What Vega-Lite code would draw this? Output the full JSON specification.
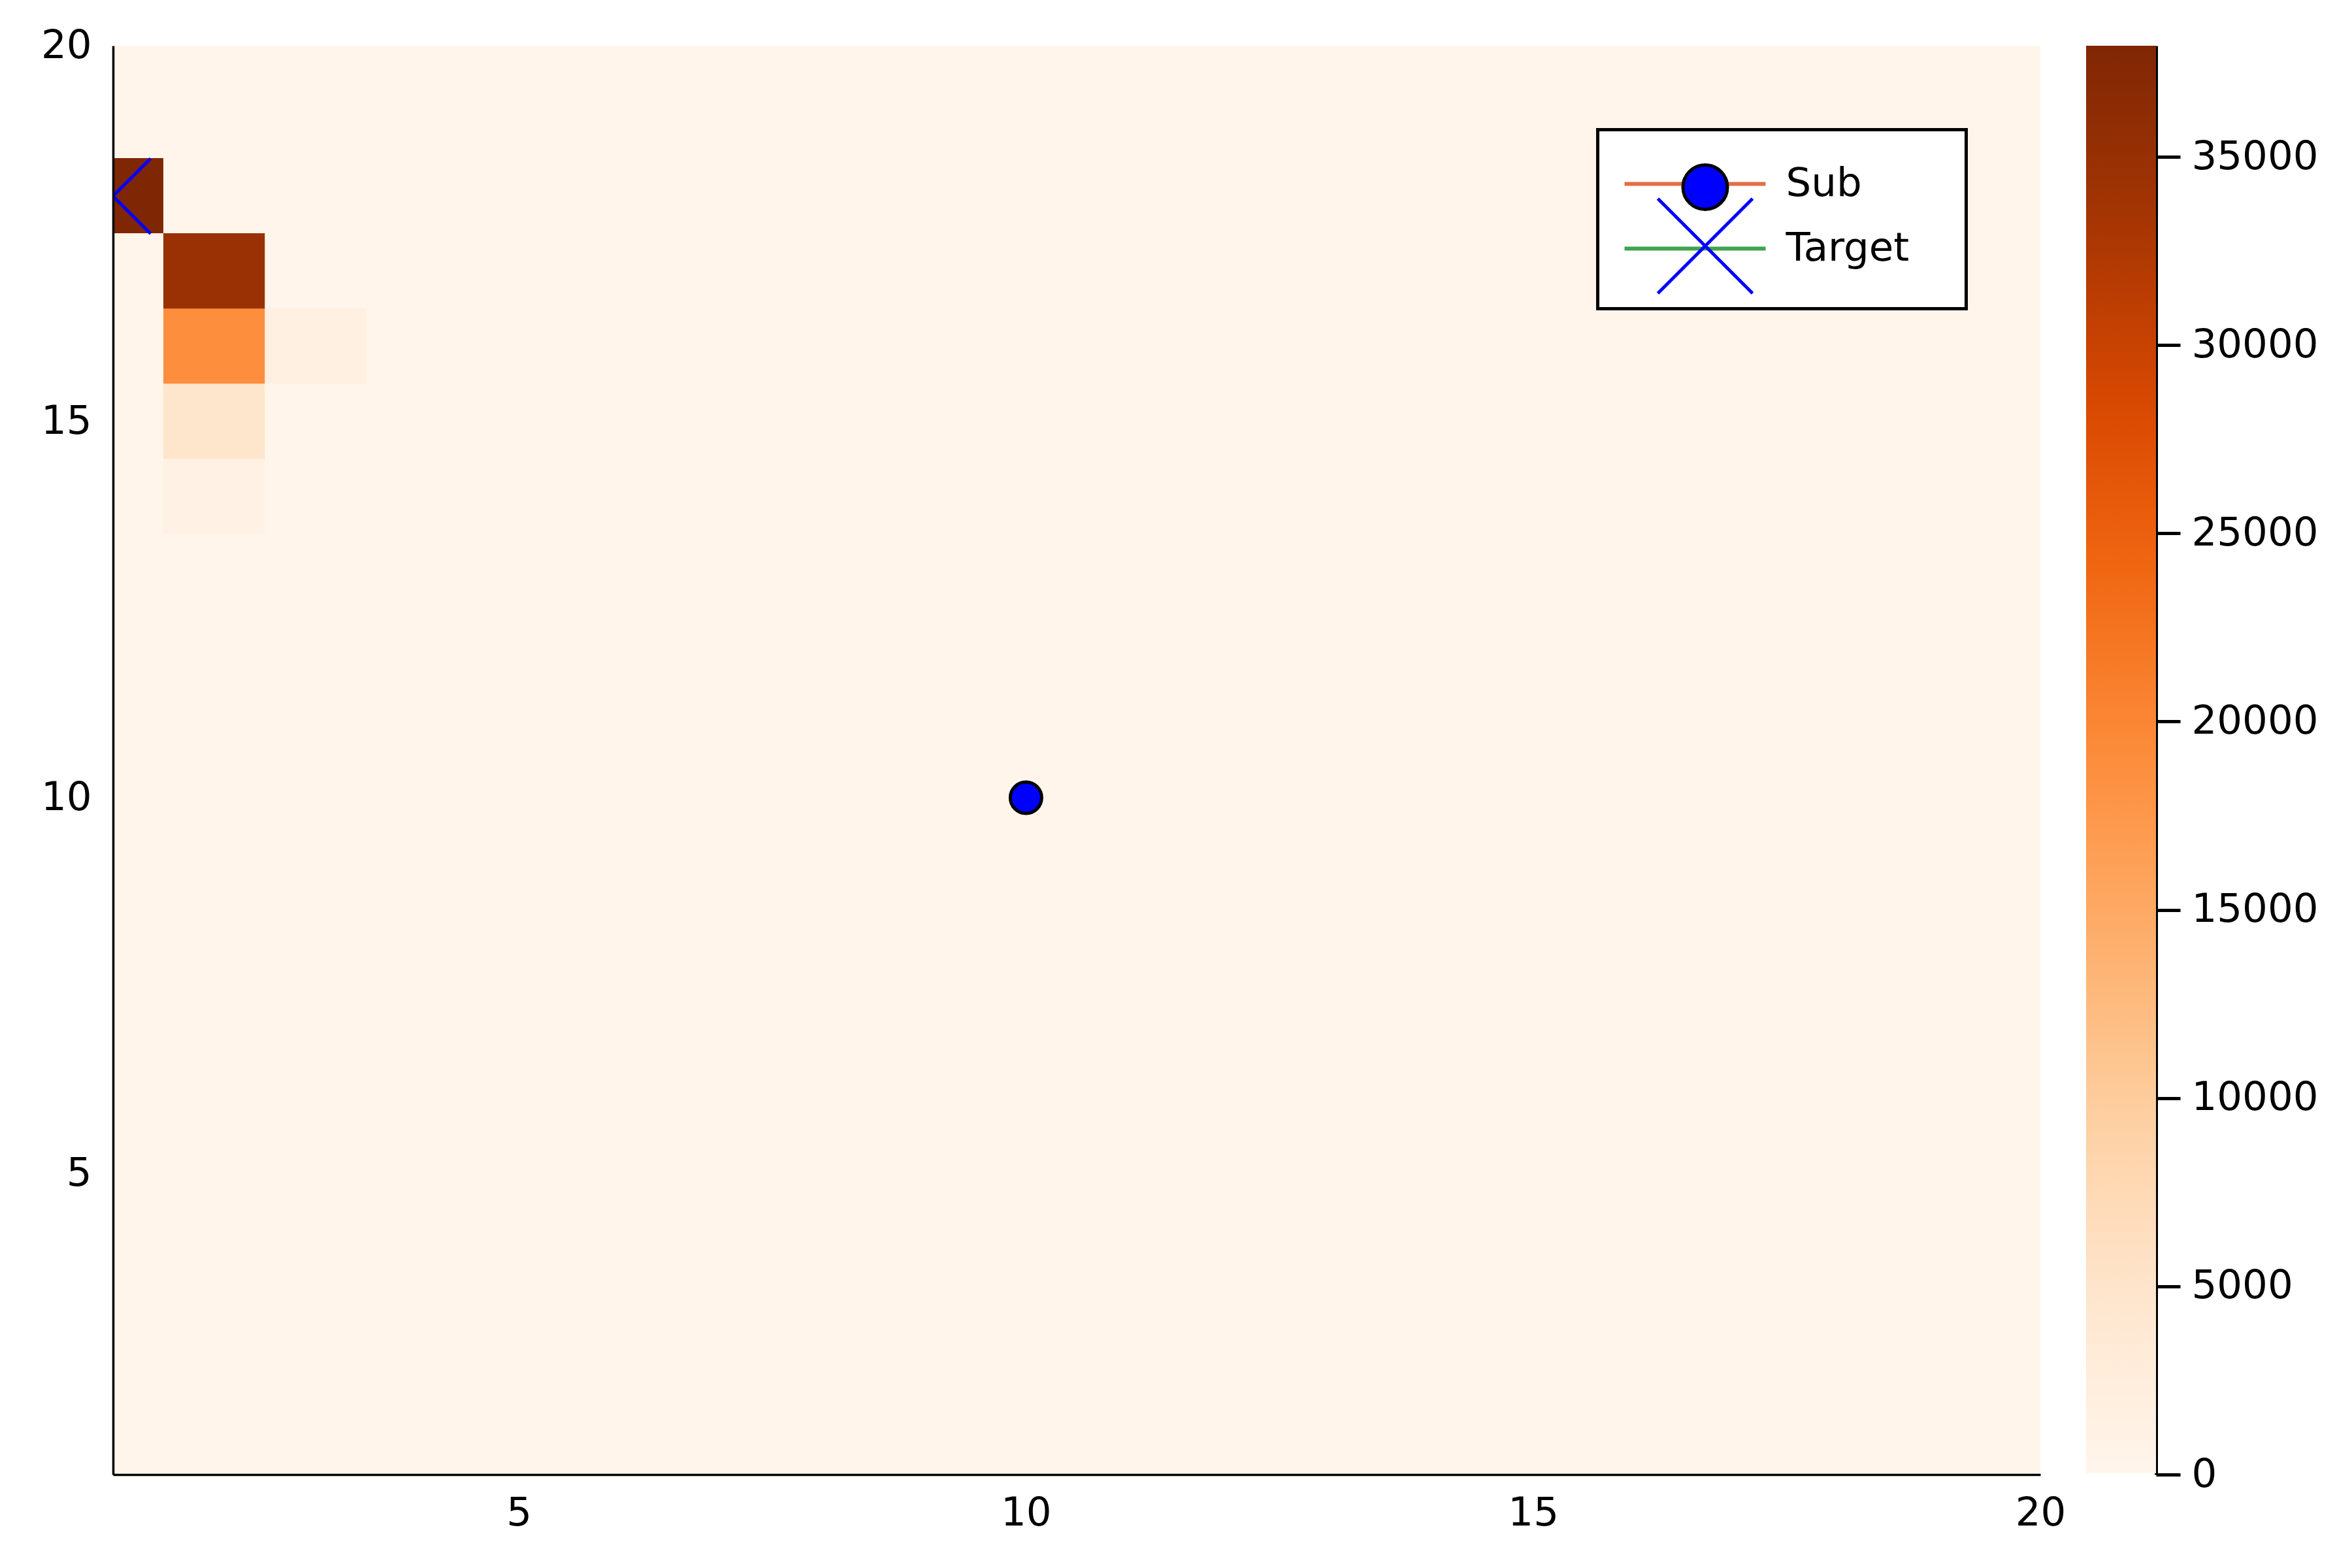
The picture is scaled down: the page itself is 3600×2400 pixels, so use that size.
{
  "$schema": "https://vega.github.io/schema/vega-lite/v6.json",
  "width": 2950,
  "height": 2187,
  "autosize": {"type": "none"},
  "padding": {"left": 173, "top": 70, "right": 477, "bottom": 143},
  "background": "white",
  "datasets": {
    "grid": [
      {"x":1,"y":20,"v":0},{"x":2,"y":20,"v":0},{"x":3,"y":20,"v":0},{"x":4,"y":20,"v":0},{"x":5,"y":20,"v":0},{"x":6,"y":20,"v":0},{"x":7,"y":20,"v":0},{"x":8,"y":20,"v":0},{"x":9,"y":20,"v":0},{"x":10,"y":20,"v":0},{"x":11,"y":20,"v":0},{"x":12,"y":20,"v":0},{"x":13,"y":20,"v":0},{"x":14,"y":20,"v":0},{"x":15,"y":20,"v":0},{"x":16,"y":20,"v":0},{"x":17,"y":20,"v":0},{"x":18,"y":20,"v":0},{"x":19,"y":20,"v":0},{"x":20,"y":20,"v":0},
      {"x":1,"y":19,"v":0},{"x":2,"y":19,"v":0},{"x":3,"y":19,"v":0},{"x":4,"y":19,"v":0},{"x":5,"y":19,"v":0},{"x":6,"y":19,"v":0},{"x":7,"y":19,"v":0},{"x":8,"y":19,"v":0},{"x":9,"y":19,"v":0},{"x":10,"y":19,"v":0},{"x":11,"y":19,"v":0},{"x":12,"y":19,"v":0},{"x":13,"y":19,"v":0},{"x":14,"y":19,"v":0},{"x":15,"y":19,"v":0},{"x":16,"y":19,"v":0},{"x":17,"y":19,"v":0},{"x":18,"y":19,"v":0},{"x":19,"y":19,"v":0},{"x":20,"y":19,"v":0},
      {"x":1,"y":18,"v":37950},{"x":2,"y":18,"v":0},{"x":3,"y":18,"v":0},{"x":4,"y":18,"v":0},{"x":5,"y":18,"v":0},{"x":6,"y":18,"v":0},{"x":7,"y":18,"v":0},{"x":8,"y":18,"v":0},{"x":9,"y":18,"v":0},{"x":10,"y":18,"v":0},{"x":11,"y":18,"v":0},{"x":12,"y":18,"v":0},{"x":13,"y":18,"v":0},{"x":14,"y":18,"v":0},{"x":15,"y":18,"v":0},{"x":16,"y":18,"v":0},{"x":17,"y":18,"v":0},{"x":18,"y":18,"v":0},{"x":19,"y":18,"v":0},{"x":20,"y":18,"v":0},
      {"x":1,"y":17,"v":0},{"x":2,"y":17,"v":34800},{"x":3,"y":17,"v":0},{"x":4,"y":17,"v":0},{"x":5,"y":17,"v":0},{"x":6,"y":17,"v":0},{"x":7,"y":17,"v":0},{"x":8,"y":17,"v":0},{"x":9,"y":17,"v":0},{"x":10,"y":17,"v":0},{"x":11,"y":17,"v":0},{"x":12,"y":17,"v":0},{"x":13,"y":17,"v":0},{"x":14,"y":17,"v":0},{"x":15,"y":17,"v":0},{"x":16,"y":17,"v":0},{"x":17,"y":17,"v":0},{"x":18,"y":17,"v":0},{"x":19,"y":17,"v":0},{"x":20,"y":17,"v":0},
      {"x":1,"y":16,"v":0},{"x":2,"y":16,"v":18900},{"x":3,"y":16,"v":1500},{"x":4,"y":16,"v":0},{"x":5,"y":16,"v":0},{"x":6,"y":16,"v":0},{"x":7,"y":16,"v":0},{"x":8,"y":16,"v":0},{"x":9,"y":16,"v":0},{"x":10,"y":16,"v":0},{"x":11,"y":16,"v":0},{"x":12,"y":16,"v":0},{"x":13,"y":16,"v":0},{"x":14,"y":16,"v":0},{"x":15,"y":16,"v":0},{"x":16,"y":16,"v":0},{"x":17,"y":16,"v":0},{"x":18,"y":16,"v":0},{"x":19,"y":16,"v":0},{"x":20,"y":16,"v":0},
      {"x":1,"y":15,"v":0},{"x":2,"y":15,"v":4800},{"x":3,"y":15,"v":0},{"x":4,"y":15,"v":0},{"x":5,"y":15,"v":0},{"x":6,"y":15,"v":0},{"x":7,"y":15,"v":0},{"x":8,"y":15,"v":0},{"x":9,"y":15,"v":0},{"x":10,"y":15,"v":0},{"x":11,"y":15,"v":0},{"x":12,"y":15,"v":0},{"x":13,"y":15,"v":0},{"x":14,"y":15,"v":0},{"x":15,"y":15,"v":0},{"x":16,"y":15,"v":0},{"x":17,"y":15,"v":0},{"x":18,"y":15,"v":0},{"x":19,"y":15,"v":0},{"x":20,"y":15,"v":0},
      {"x":1,"y":14,"v":0},{"x":2,"y":14,"v":900},{"x":3,"y":14,"v":0},{"x":4,"y":14,"v":0},{"x":5,"y":14,"v":0},{"x":6,"y":14,"v":0},{"x":7,"y":14,"v":0},{"x":8,"y":14,"v":0},{"x":9,"y":14,"v":0},{"x":10,"y":14,"v":0},{"x":11,"y":14,"v":0},{"x":12,"y":14,"v":0},{"x":13,"y":14,"v":0},{"x":14,"y":14,"v":0},{"x":15,"y":14,"v":0},{"x":16,"y":14,"v":0},{"x":17,"y":14,"v":0},{"x":18,"y":14,"v":0},{"x":19,"y":14,"v":0},{"x":20,"y":14,"v":0},
      {"x":1,"y":13,"v":0},{"x":2,"y":13,"v":0},{"x":3,"y":13,"v":0},{"x":4,"y":13,"v":0},{"x":5,"y":13,"v":0},{"x":6,"y":13,"v":0},{"x":7,"y":13,"v":0},{"x":8,"y":13,"v":0},{"x":9,"y":13,"v":0},{"x":10,"y":13,"v":0},{"x":11,"y":13,"v":0},{"x":12,"y":13,"v":0},{"x":13,"y":13,"v":0},{"x":14,"y":13,"v":0},{"x":15,"y":13,"v":0},{"x":16,"y":13,"v":0},{"x":17,"y":13,"v":0},{"x":18,"y":13,"v":0},{"x":19,"y":13,"v":0},{"x":20,"y":13,"v":0},
      {"x":1,"y":12,"v":0},{"x":2,"y":12,"v":0},{"x":3,"y":12,"v":0},{"x":4,"y":12,"v":0},{"x":5,"y":12,"v":0},{"x":6,"y":12,"v":0},{"x":7,"y":12,"v":0},{"x":8,"y":12,"v":0},{"x":9,"y":12,"v":0},{"x":10,"y":12,"v":0},{"x":11,"y":12,"v":0},{"x":12,"y":12,"v":0},{"x":13,"y":12,"v":0},{"x":14,"y":12,"v":0},{"x":15,"y":12,"v":0},{"x":16,"y":12,"v":0},{"x":17,"y":12,"v":0},{"x":18,"y":12,"v":0},{"x":19,"y":12,"v":0},{"x":20,"y":12,"v":0},
      {"x":1,"y":11,"v":0},{"x":2,"y":11,"v":0},{"x":3,"y":11,"v":0},{"x":4,"y":11,"v":0},{"x":5,"y":11,"v":0},{"x":6,"y":11,"v":0},{"x":7,"y":11,"v":0},{"x":8,"y":11,"v":0},{"x":9,"y":11,"v":0},{"x":10,"y":11,"v":0},{"x":11,"y":11,"v":0},{"x":12,"y":11,"v":0},{"x":13,"y":11,"v":0},{"x":14,"y":11,"v":0},{"x":15,"y":11,"v":0},{"x":16,"y":11,"v":0},{"x":17,"y":11,"v":0},{"x":18,"y":11,"v":0},{"x":19,"y":11,"v":0},{"x":20,"y":11,"v":0},
      {"x":1,"y":10,"v":0},{"x":2,"y":10,"v":0},{"x":3,"y":10,"v":0},{"x":4,"y":10,"v":0},{"x":5,"y":10,"v":0},{"x":6,"y":10,"v":0},{"x":7,"y":10,"v":0},{"x":8,"y":10,"v":0},{"x":9,"y":10,"v":0},{"x":10,"y":10,"v":0},{"x":11,"y":10,"v":0},{"x":12,"y":10,"v":0},{"x":13,"y":10,"v":0},{"x":14,"y":10,"v":0},{"x":15,"y":10,"v":0},{"x":16,"y":10,"v":0},{"x":17,"y":10,"v":0},{"x":18,"y":10,"v":0},{"x":19,"y":10,"v":0},{"x":20,"y":10,"v":0},
      {"x":1,"y":9,"v":0},{"x":2,"y":9,"v":0},{"x":3,"y":9,"v":0},{"x":4,"y":9,"v":0},{"x":5,"y":9,"v":0},{"x":6,"y":9,"v":0},{"x":7,"y":9,"v":0},{"x":8,"y":9,"v":0},{"x":9,"y":9,"v":0},{"x":10,"y":9,"v":0},{"x":11,"y":9,"v":0},{"x":12,"y":9,"v":0},{"x":13,"y":9,"v":0},{"x":14,"y":9,"v":0},{"x":15,"y":9,"v":0},{"x":16,"y":9,"v":0},{"x":17,"y":9,"v":0},{"x":18,"y":9,"v":0},{"x":19,"y":9,"v":0},{"x":20,"y":9,"v":0},
      {"x":1,"y":8,"v":0},{"x":2,"y":8,"v":0},{"x":3,"y":8,"v":0},{"x":4,"y":8,"v":0},{"x":5,"y":8,"v":0},{"x":6,"y":8,"v":0},{"x":7,"y":8,"v":0},{"x":8,"y":8,"v":0},{"x":9,"y":8,"v":0},{"x":10,"y":8,"v":0},{"x":11,"y":8,"v":0},{"x":12,"y":8,"v":0},{"x":13,"y":8,"v":0},{"x":14,"y":8,"v":0},{"x":15,"y":8,"v":0},{"x":16,"y":8,"v":0},{"x":17,"y":8,"v":0},{"x":18,"y":8,"v":0},{"x":19,"y":8,"v":0},{"x":20,"y":8,"v":0},
      {"x":1,"y":7,"v":0},{"x":2,"y":7,"v":0},{"x":3,"y":7,"v":0},{"x":4,"y":7,"v":0},{"x":5,"y":7,"v":0},{"x":6,"y":7,"v":0},{"x":7,"y":7,"v":0},{"x":8,"y":7,"v":0},{"x":9,"y":7,"v":0},{"x":10,"y":7,"v":0},{"x":11,"y":7,"v":0},{"x":12,"y":7,"v":0},{"x":13,"y":7,"v":0},{"x":14,"y":7,"v":0},{"x":15,"y":7,"v":0},{"x":16,"y":7,"v":0},{"x":17,"y":7,"v":0},{"x":18,"y":7,"v":0},{"x":19,"y":7,"v":0},{"x":20,"y":7,"v":0},
      {"x":1,"y":6,"v":0},{"x":2,"y":6,"v":0},{"x":3,"y":6,"v":0},{"x":4,"y":6,"v":0},{"x":5,"y":6,"v":0},{"x":6,"y":6,"v":0},{"x":7,"y":6,"v":0},{"x":8,"y":6,"v":0},{"x":9,"y":6,"v":0},{"x":10,"y":6,"v":0},{"x":11,"y":6,"v":0},{"x":12,"y":6,"v":0},{"x":13,"y":6,"v":0},{"x":14,"y":6,"v":0},{"x":15,"y":6,"v":0},{"x":16,"y":6,"v":0},{"x":17,"y":6,"v":0},{"x":18,"y":6,"v":0},{"x":19,"y":6,"v":0},{"x":20,"y":6,"v":0},
      {"x":1,"y":5,"v":0},{"x":2,"y":5,"v":0},{"x":3,"y":5,"v":0},{"x":4,"y":5,"v":0},{"x":5,"y":5,"v":0},{"x":6,"y":5,"v":0},{"x":7,"y":5,"v":0},{"x":8,"y":5,"v":0},{"x":9,"y":5,"v":0},{"x":10,"y":5,"v":0},{"x":11,"y":5,"v":0},{"x":12,"y":5,"v":0},{"x":13,"y":5,"v":0},{"x":14,"y":5,"v":0},{"x":15,"y":5,"v":0},{"x":16,"y":5,"v":0},{"x":17,"y":5,"v":0},{"x":18,"y":5,"v":0},{"x":19,"y":5,"v":0},{"x":20,"y":5,"v":0},
      {"x":1,"y":4,"v":0},{"x":2,"y":4,"v":0},{"x":3,"y":4,"v":0},{"x":4,"y":4,"v":0},{"x":5,"y":4,"v":0},{"x":6,"y":4,"v":0},{"x":7,"y":4,"v":0},{"x":8,"y":4,"v":0},{"x":9,"y":4,"v":0},{"x":10,"y":4,"v":0},{"x":11,"y":4,"v":0},{"x":12,"y":4,"v":0},{"x":13,"y":4,"v":0},{"x":14,"y":4,"v":0},{"x":15,"y":4,"v":0},{"x":16,"y":4,"v":0},{"x":17,"y":4,"v":0},{"x":18,"y":4,"v":0},{"x":19,"y":4,"v":0},{"x":20,"y":4,"v":0},
      {"x":1,"y":3,"v":0},{"x":2,"y":3,"v":0},{"x":3,"y":3,"v":0},{"x":4,"y":3,"v":0},{"x":5,"y":3,"v":0},{"x":6,"y":3,"v":0},{"x":7,"y":3,"v":0},{"x":8,"y":3,"v":0},{"x":9,"y":3,"v":0},{"x":10,"y":3,"v":0},{"x":11,"y":3,"v":0},{"x":12,"y":3,"v":0},{"x":13,"y":3,"v":0},{"x":14,"y":3,"v":0},{"x":15,"y":3,"v":0},{"x":16,"y":3,"v":0},{"x":17,"y":3,"v":0},{"x":18,"y":3,"v":0},{"x":19,"y":3,"v":0},{"x":20,"y":3,"v":0},
      {"x":1,"y":2,"v":0},{"x":2,"y":2,"v":0},{"x":3,"y":2,"v":0},{"x":4,"y":2,"v":0},{"x":5,"y":2,"v":0},{"x":6,"y":2,"v":0},{"x":7,"y":2,"v":0},{"x":8,"y":2,"v":0},{"x":9,"y":2,"v":0},{"x":10,"y":2,"v":0},{"x":11,"y":2,"v":0},{"x":12,"y":2,"v":0},{"x":13,"y":2,"v":0},{"x":14,"y":2,"v":0},{"x":15,"y":2,"v":0},{"x":16,"y":2,"v":0},{"x":17,"y":2,"v":0},{"x":18,"y":2,"v":0},{"x":19,"y":2,"v":0},{"x":20,"y":2,"v":0},
      {"x":1,"y":1,"v":0},{"x":2,"y":1,"v":0},{"x":3,"y":1,"v":0},{"x":4,"y":1,"v":0},{"x":5,"y":1,"v":0},{"x":6,"y":1,"v":0},{"x":7,"y":1,"v":0},{"x":8,"y":1,"v":0},{"x":9,"y":1,"v":0},{"x":10,"y":1,"v":0},{"x":11,"y":1,"v":0},{"x":12,"y":1,"v":0},{"x":13,"y":1,"v":0},{"x":14,"y":1,"v":0},{"x":15,"y":1,"v":0},{"x":16,"y":1,"v":0},{"x":17,"y":1,"v":0},{"x":18,"y":1,"v":0},{"x":19,"y":1,"v":0},{"x":20,"y":1,"v":0}
    ],
    "series": [
      {"series": "Sub", "line": "Sub", "x": 10, "y": 10},
      {"series": "Target", "line": "Target", "x": 1, "y": 18}
    ]
  },
  "config": {
    "view": {"stroke": null},
    "font": "DejaVu Sans",
    "axis": {"labelFont": "DejaVu Sans", "labelFontSize": 61, "labelColor": "black", "domainColor": "black", "grid": false, "title": null, "labelLimit": 1000},
    "legend": {"strokeWidth": 5, "labelLimit": 1000}
  },
  "layer": [
    {
      "layer": [
        {
          "data": {"name": "grid"},
          "mark": {"type": "rect", "width": 156.5, "height": 116.5, "clip": true},
          "encoding": {
            "x": {"field": "x", "type": "quantitative", "scale": {"domain": [1, 20], "nice": false, "zero": false},
                  "axis": {"values": [5, 10, 15, 20], "format": "d", "ticks": false, "labelPadding": 29, "domainWidth": 3.5, "zindex": 1, "labelFlush": false, "labelOverlap": false}},
            "y": {"field": "y", "type": "quantitative", "scale": {"domain": [1, 20], "nice": false, "zero": false},
                  "axis": {"values": [5, 10, 15, 20], "format": "d", "ticks": false, "labelPadding": 33, "domainWidth": 3.5, "zindex": 1, "labelFlush": false, "labelOverlap": false}},
            "fill": {"field": "v", "type": "quantitative",
                     "scale": {"domain": [0, 37950], "range": ["#fff5eb", "#fee6ce", "#fdd0a2", "#fdae6b", "#fd8d3c", "#f16913", "#d94801", "#a63603", "#7f2704"]},
                     "legend": {"orient": "none", "legendX": 3020, "legendY": 0, "direction": "vertical", "gradientLength": 2185, "gradientThickness": 107, "gradientStrokeWidth": 0, "labelOpacity": 0, "title": null, "padding": 0}}
          }
        },
        {
          "data": {"name": "series"},
          "mark": {"type": "line", "strokeWidth": 6, "clip": true},
          "encoding": {
            "x": {"field": "x", "type": "quantitative"},
            "y": {"field": "y", "type": "quantitative"},
            "color": {"field": "line", "type": "nominal", "scale": {"range": ["#e26f46", "#3da44d"]},
                      "legend": {"orient": "none", "legendX": 2272.5, "legendY": 128.5, "title": null, "zindex": 1,
                                 "symbolType": "M-2.571,0L2.571,0M0,-1M8.69,1", "symbolSize": 7056, "symbolStrokeWidth": 6, "symbolOffset": 66,
                                 "labelFont": "DejaVu Sans", "labelFontSize": 61, "labelColor": "black", "labelOffset": 94,
                                 "padding": 38, "rowPadding": -24, "fillColor": "white", "strokeColor": "black"}}
          }
        },
        {
          "data": {"name": "series"},
          "transform": [{"filter": "datum.series === 'Sub'"}],
          "mark": {"type": "point", "filled": true, "fill": "blue", "shape": "circle", "strokeWidth": 5, "opacity": 1, "size": 2304, "clip": true},
          "encoding": {
            "x": {"field": "x", "type": "quantitative"},
            "y": {"field": "y", "type": "quantitative"},
            "stroke": {"field": "series", "type": "nominal", "scale": {"range": ["black"]},
                       "legend": {"orient": "none", "legendX": 2400.5, "legendY": 180, "title": null, "zindex": 2, "padding": 0,
                                  "symbolType": "circle", "symbolSize": 4624, "symbolStrokeWidth": 5, "symbolFillColor": "blue",
                                  "labelExpr": "''", "labelFontSize": 61}}
          }
        },
        {
          "data": {"name": "series"},
          "transform": [{"filter": "datum.series === 'Target'"}],
          "mark": {"type": "point", "filled": false, "shape": "M-1,-1L1,1M-1,1L1,-1", "stroke": "blue", "strokeWidth": 5, "size": 13225, "clip": true},
          "encoding": {
            "x": {"field": "x", "type": "quantitative"},
            "y": {"field": "y", "type": "quantitative"},
            "opacity": {"field": "series", "type": "nominal", "scale": {"range": [1]},
                        "legend": {"orient": "none", "legendX": 2362, "legendY": 231.5, "title": null, "zindex": 2, "padding": 0,
                                   "symbolType": "M-1,-1L1,1M-1,1L1,-1", "symbolSize": 21025, "symbolStrokeWidth": 5, "symbolStrokeColor": "blue", "symbolFillColor": "transparent",
                                   "labelExpr": "''", "labelFontSize": 61}}
          }
        }
      ]
    },
    {
      "data": {"name": "grid"},
      "mark": {"type": "point", "opacity": 0},
      "encoding": {
        "x": {"field": "x", "type": "quantitative"},
        "y": {"field": "v", "type": "quantitative", "scale": {"domain": [0, 37950], "nice": false, "zero": false},
              "axis": {"orient": "right", "offset": 177, "values": [0, 5000, 10000, 15000, 20000, 25000, 30000, 35000], "format": "d", "ticks": true, "tickSize": 37, "tickWidth": 5, "tickColor": "black", "domainWidth": 5, "labelPadding": 17, "labelFlush": false, "labelOverlap": false}}
      }
    }
  ],
  "resolve": {"scale": {"y": "independent"}}
}
